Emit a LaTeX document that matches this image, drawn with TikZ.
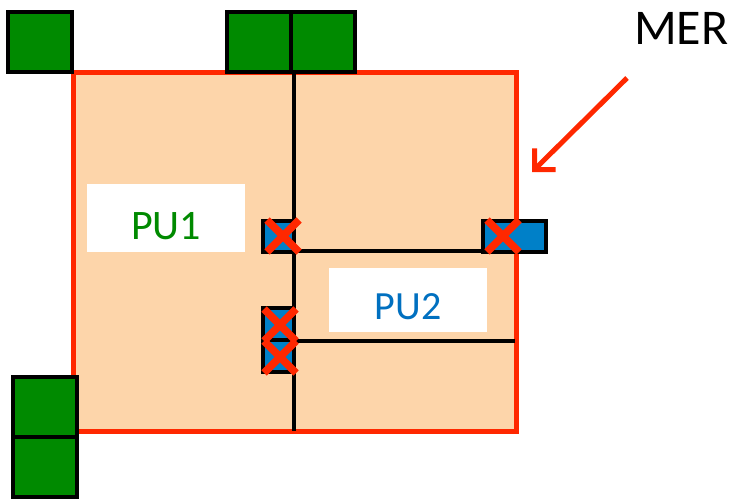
\documentclass[tikz,border=0pt]{standalone}
\usepackage{fontspec}
\setmainfont{Carlito}
\usetikzlibrary{arrows.meta}
\definecolor{peach}{RGB}{253,213,170}
\definecolor{merred}{RGB}{255,40,0}
\definecolor{pugreen}{RGB}{0,138,0}
\definecolor{publue}{RGB}{0,128,200}
\definecolor{pu2blue}{RGB}{0,112,192}
\tikzset{
  gsq/.style={draw=black, line width=3.5pt, fill=pugreen},
  bsq/.style={draw=black, line width=3.5pt, fill=publue},
  wire/.style={draw=black, line width=3.2pt},
  xmark/.style={draw=merred, line width=7.5pt},
  labbox/.style={fill=white, draw=none},
  labtext/.style={inner sep=0pt, font=\fontsize{42}{48}\selectfont}
}
\newcommand{\xcross}[3]{% name, x, y
  \coordinate (#1) at (#2,#3);
  \draw[xmark] ([shift={(-16,-16)}]#1) -- ([shift={(16,16)}]#1);
  \draw[xmark] ([shift={(-16,16)}]#1) -- ([shift={(16,-16)}]#1);
}
\begin{document}
\begin{tikzpicture}[x=1pt,y=-1pt]
\useasboundingbox (0,0) rectangle (732,500);
% MER region
\draw[draw=merred, line width=5pt, fill=peach] (73,73) rectangle (516,431);
% labels
\fill[labbox] (87,184) rectangle (245,252);
\node[labtext, text=pugreen] (pu1) at (166,226) {PU1};
\fill[labbox] (329,268) rectangle (487,332);
\node[labtext, text=pu2blue, font=\fontsize{40}{46}\selectfont] (pu2) at (408,307) {PU2};
% wires
\coordinate (vtop) at (294,72);
\coordinate (vbot) at (294,431);
\coordinate (h1l) at (294,251);
\coordinate (h1r) at (484,251);
\coordinate (h2l) at (294,341);
\coordinate (h2r) at (515,341);
\draw[wire] (vtop) -- (vbot);
\draw[wire] (h1l) -- (h1r);
\draw[wire] (h2l) -- (h2r);
% green squares
\draw[gsq] (8,12) rectangle (72,72);
\draw[gsq] (227,12) rectangle (291,72);
\draw[gsq] (291,12) rectangle (355,72);
\draw[gsq] (13,377) rectangle (77,437);
\draw[gsq] (13,437) rectangle (77,497);
% blue boxes
\draw[bsq] (263,221) rectangle (294,252);
\draw[bsq] (483,221) rectangle (546,252);
\draw[bsq] (263,308) rectangle (294,340);
\draw[bsq] (263,340) rectangle (294,372);
% crosses
\xcross{x1}{283}{236}
\xcross{x2}{503}{236}
\xcross{x3}{280}{325}
\xcross{x4}{280}{357}
% MER label and arrow
\node[anchor=west, inner sep=0pt, font=\fontsize{50}{56}\selectfont] (mer) at (634,28) {MER};
\coordinate (atail) at (627,78);
\coordinate (ahead) at (532,172);
\draw[merred, line width=5pt, -{Straight Barb[length=15pt, width=30pt, line width=5pt]}] (atail) -- (ahead);
\end{tikzpicture}
\end{document}
